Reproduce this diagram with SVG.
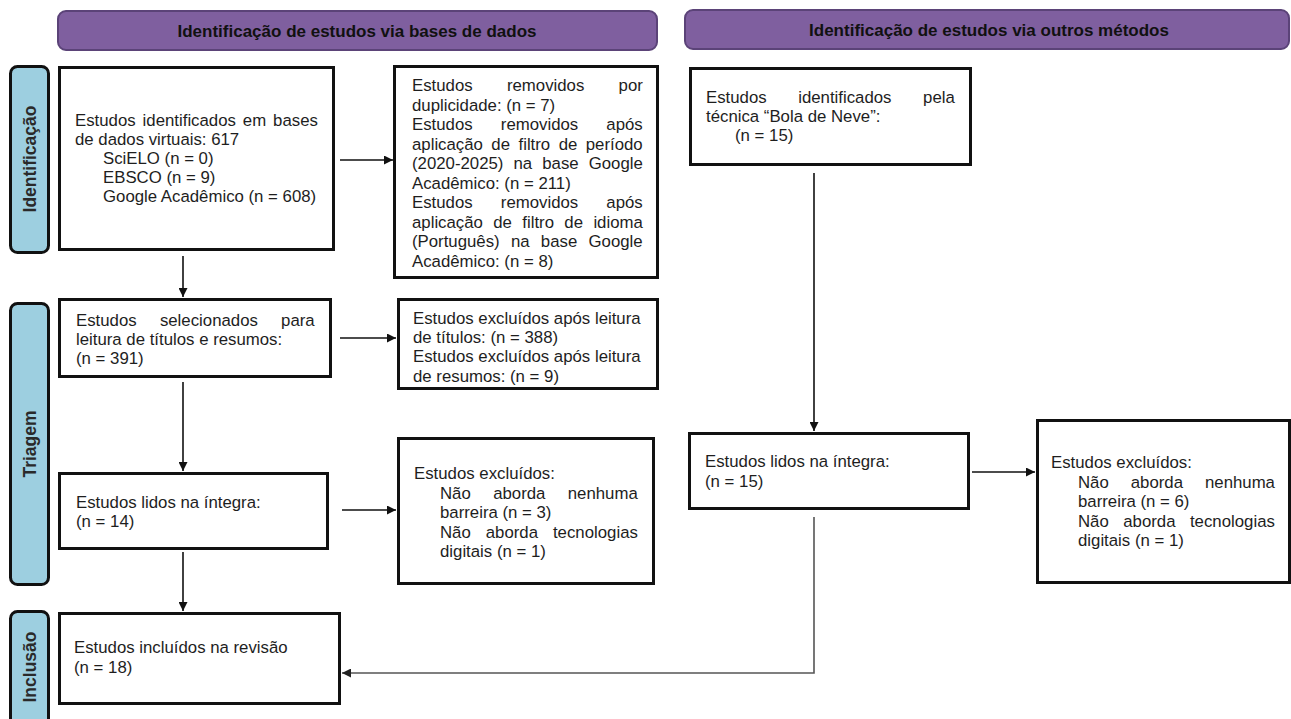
<svg xmlns="http://www.w3.org/2000/svg" width="1291" height="719" viewBox="0 0 1291 719">
<style>
.hdr{fill:#7f5f9f;stroke:#5b4378;stroke-width:2}
.hdrt{font-family:"Liberation Sans",Arial,sans-serif;font-weight:bold;font-size:17px;fill:#111;text-anchor:middle}
.side{fill:#9dcfe0;stroke:#111;stroke-width:3}
.sidet{font-family:"Liberation Sans",Arial,sans-serif;font-weight:bold;font-size:17.5px;fill:#2a2a2a;text-anchor:middle}
.box{fill:#fff;stroke:#111;stroke-width:3}
.t{font-family:"Liberation Sans",Arial,sans-serif;font-size:16.8px;fill:#1e1e1e}
.c{fill:none;stroke:#111;stroke-width:1.6}
.cg{fill:none;stroke:#555;stroke-width:1.6}
</style>
<defs>
<marker id="ah" markerUnits="userSpaceOnUse" markerWidth="9" markerHeight="9" refX="9" refY="4.5" orient="auto">
<path d="M0,0 L9,4.5 L0,9 z" fill="#111"/>
</marker>
<marker id="ahg" markerUnits="userSpaceOnUse" markerWidth="9" markerHeight="9" refX="9" refY="4.5" orient="auto">
<path d="M0,0 L9,4.5 L0,9 z" fill="#222"/>
</marker>
<clipPath id="clipE"><rect x="399" y="300" width="258" height="87"/></clipPath>
</defs>

<g id="header-bases">
<rect class="hdr" x="58" y="11" width="599" height="39" rx="8"/>
<text class="hdrt" x="357" y="37">Identificação de estudos via bases de dados</text>
</g>
<g id="header-outros">
<rect class="hdr" x="685" y="10" width="604" height="39" rx="8"/>
<text class="hdrt" x="989" y="36">Identificação de estudos via outros métodos</text>
</g>

<g id="label-identificacao">
<rect class="side" x="10.5" y="66.5" width="38" height="186" rx="7"/>
<text class="sidet" transform="translate(36,159) rotate(-90)">Identificação</text>
</g>
<g id="label-triagem">
<rect class="side" x="10.5" y="303.5" width="38" height="281" rx="7"/>
<text class="sidet" transform="translate(36,444) rotate(-90)">Triagem</text>
</g>
<g id="label-inclusao">
<rect class="side" x="10.5" y="611.5" width="38" height="125" rx="7"/>
<text class="sidet" transform="translate(36,667) rotate(-90)">Inclusão</text>
</g>

<g id="connectors">
<line class="c" x1="183" y1="256" x2="183" y2="297" marker-end="url(#ah)"/>
<line class="c" x1="340" y1="160" x2="393" y2="160" marker-end="url(#ah)"/>
<line class="c" x1="340" y1="338" x2="396" y2="338" marker-end="url(#ah)"/>
<line class="c" x1="183" y1="382" x2="183" y2="471" marker-end="url(#ah)"/>
<line class="c" x1="342" y1="510" x2="396" y2="510" marker-end="url(#ah)"/>
<line class="c" x1="183" y1="552" x2="183" y2="611" marker-end="url(#ah)"/>
<line class="c" x1="814" y1="173" x2="814" y2="431" marker-end="url(#ah)"/>
<line class="c" x1="972" y1="472" x2="1035" y2="472" marker-end="url(#ah)"/>
<polyline class="cg" points="814,517 814,673 342,673" marker-end="url(#ahg)"/>
</g>

<g id="box-identificados">
<rect class="box" x="59.5" y="67.5" width="274" height="182"/>
<text class="t" x="75" y="126" word-spacing="2.3">Estudos identificados em bases</text>
<text class="t"><tspan x="75" y="145">de dados virtuais: 617</tspan><tspan x="103" y="164">SciELO (n = 0)</tspan><tspan x="103" y="183">EBSCO (n = 9)</tspan><tspan x="103" y="202">Google Acadêmico (n = 608)</tspan></text>
</g>

<g id="box-removidos">
<rect class="box" x="394.5" y="66.5" width="263" height="211"/>
<text class="t" x="412" y="91" word-spacing="29.6">Estudos removidos por</text>
<text class="t" x="412" y="110.5">duplicidade: (n = 7)</text>
<text class="t" x="412" y="130" word-spacing="23.5">Estudos removidos após</text>
<text class="t" x="412" y="149.5" word-spacing="3.8">aplicação de filtro de período</text>
<text class="t" x="412" y="169" word-spacing="5.4">(2020-2025) na base Google</text>
<text class="t" x="412" y="188.5">Acadêmico: (n = 211)</text>
<text class="t" x="412" y="208" word-spacing="23.5">Estudos removidos após</text>
<text class="t" x="412" y="227.5" word-spacing="5.7">aplicação de filtro de idioma</text>
<text class="t" x="412" y="247" word-spacing="6.6">(Português) na base Google</text>
<text class="t" x="412" y="266.5">Acadêmico: (n = 8)</text>
</g>

<g id="box-bola-de-neve">
<rect class="box" x="690.5" y="68.5" width="280" height="96"/>
<text class="t" x="706" y="103" word-spacing="26.9">Estudos identificados pela</text>
<text class="t"><tspan x="706" y="122">técnica “Bola de Neve”:</tspan><tspan x="735" y="141">(n = 15)</tspan></text>
</g>

<g id="box-selecionados">
<rect class="box" x="59.5" y="299.5" width="271" height="77"/>
<text class="t" x="76" y="326" word-spacing="18.6">Estudos selecionados para</text>
<text class="t"><tspan x="76" y="345">leitura de títulos e resumos:</tspan><tspan x="76" y="364">(n = 391)</tspan></text>
</g>

<g id="box-excluidos-titulos">
<rect class="box" x="398.5" y="299.5" width="259" height="89"/>
<text class="t" clip-path="url(#clipE)"><tspan x="413" y="324">Estudos excluídos após leitura</tspan><tspan x="413" y="343">de títulos: (n = 388)</tspan><tspan x="413" y="362">Estudos excluídos após leitura</tspan><tspan x="413" y="382">de resumos: (n = 9)</tspan></text>
</g>

<g id="box-lidos-14">
<rect class="box" x="59.5" y="473.5" width="268" height="75"/>
<text class="t"><tspan x="76" y="508">Estudos lidos na íntegra:</tspan><tspan x="76" y="527">(n = 14)</tspan></text>
</g>

<g id="box-excluidos-14">
<rect class="box" x="398.5" y="438.5" width="255" height="145"/>
<text class="t" x="414" y="479">Estudos excluídos:</text>
<text class="t" x="440" y="498.5" word-spacing="17.7">Não aborda nenhuma</text>
<text class="t" x="440" y="518">barreira (n = 3)</text>
<text class="t" x="440" y="537.5" word-spacing="10.3">Não aborda tecnologias</text>
<text class="t" x="440" y="557">digitais (n = 1)</text>
</g>

<g id="box-lidos-15">
<rect class="box" x="689.5" y="433.5" width="279" height="75"/>
<text class="t"><tspan x="705" y="467">Estudos lidos na íntegra:</tspan><tspan x="705" y="487">(n = 15)</tspan></text>
</g>

<g id="box-excluidos-15">
<rect class="box" x="1037.5" y="420.5" width="252" height="162"/>
<text class="t" x="1051" y="468">Estudos excluídos:</text>
<text class="t" x="1078" y="487.5" word-spacing="17.3">Não aborda nenhuma</text>
<text class="t" x="1078" y="507">barreira (n = 6)</text>
<text class="t" x="1078" y="526.5" word-spacing="9.8">Não aborda tecnologias</text>
<text class="t" x="1078" y="546">digitais (n = 1)</text>
</g>

<g id="box-incluidos">
<rect class="box" x="59.5" y="613.5" width="280" height="90"/>
<text class="t"><tspan x="74" y="653">Estudos incluídos na revisão</tspan><tspan x="74" y="673">(n = 18)</tspan></text>
</g>
</svg>
